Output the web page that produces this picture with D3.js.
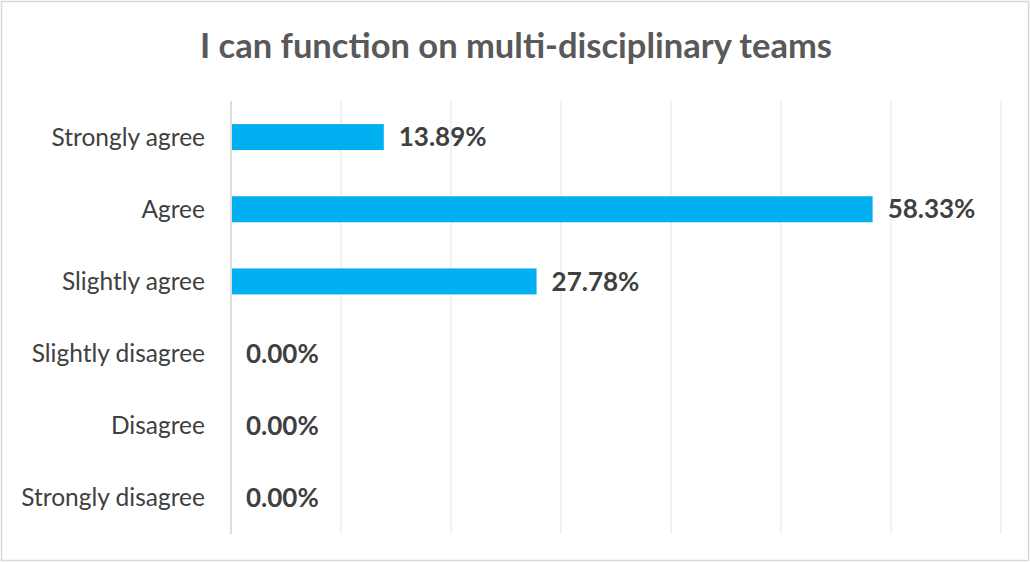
<!DOCTYPE html>
<html><head><meta charset="utf-8">
<script src="https://cdn.jsdelivr.net/npm/d3@7/dist/d3.min.js"></script>
<style>body{margin:0;background:#fff}svg{display:block}</style>
</head><body>
<script>
const title = "I can function on multi-disciplinary teams";
const categories = ["Strongly agree","Agree","Slightly agree","Slightly disagree","Disagree","Strongly disagree"];
const values = [13.89, 58.33, 27.78, 0, 0, 0];
const gridTicks = [0,10,20,30,40,50,60,70];

const W = 1030, H = 562;
const svg = d3.select("body").append("svg").attr("width", W).attr("height", H);
svg.append("rect").attr("x",1.5).attr("y",1.5).attr("width",W-3).attr("height",H-3)
  .attr("fill","#fff").attr("stroke","#d9d9d9").attr("stroke-width",1.5);

const m = {left:231, right:1001, top:101, bottom:534};
const x = d3.scaleLinear().domain([0,70]).range([m.left, m.right]);
const y = d3.scaleBand().domain(categories).range([m.top, m.bottom]).paddingInner(0.64).paddingOuter(0.32);

const font = "Lato, 'Open Sans', sans-serif";

svg.append("g").selectAll("line").data(gridTicks.slice(1)).join("line")
  .attr("x1", d=>x(d)).attr("x2", d=>x(d)).attr("y1", m.top).attr("y2", m.bottom)
  .attr("stroke","#ececec").attr("stroke-width",1.5);

svg.append("line").attr("x1",x(0)).attr("x2",x(0)).attr("y1",m.top).attr("y2",m.bottom)
  .attr("stroke","#d0d0d0").attr("stroke-width",1.5);

svg.append("g").selectAll("rect").data(values).join("rect")
  .attr("x", x(0)+1).attr("y",(d,i)=>y(categories[i]))
  .attr("width", d=>Math.max(0, x(d)-x(0)-1)).attr("height", y.bandwidth())
  .attr("fill","#00b0f0");

svg.append("g").selectAll("text").data(categories).join("text")
  .attr("x", 205).attr("y", d=>y(d)+y.bandwidth()/2).attr("dy","0.35em")
  .attr("text-anchor","end").attr("fill","#404040")
  .style("font-family",font).style("font-size","24.5px").text(d=>d);

svg.append("g").selectAll("text").data(values).join("text")
  .attr("x", d=>x(d)+15).attr("y",(d,i)=>y(categories[i])+y.bandwidth()/2).attr("dy","0.35em")
  .attr("fill","#404040").style("font-weight","bold")
  .style("font-family",font).style("font-size","26px").text(d=>d.toFixed(2)+"%");

svg.append("text").attr("x", 516).attr("y", 58).attr("text-anchor","middle")
  .attr("fill","#595959").style("font-weight","bold")
  .style("font-family",font).style("font-size","34.5px").text(title);
</script>
</body></html>
